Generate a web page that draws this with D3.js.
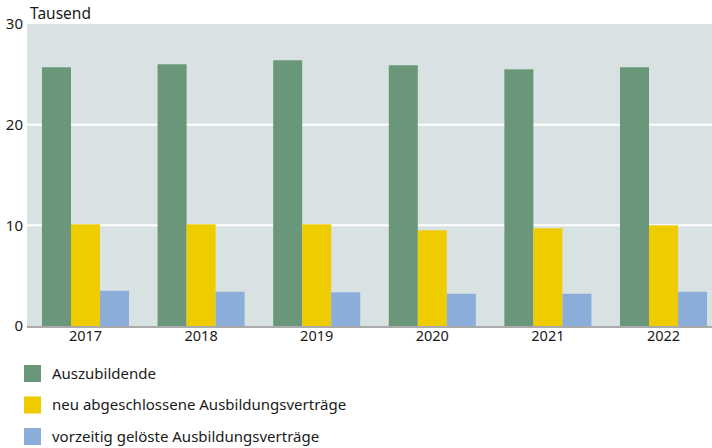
<!DOCTYPE html>
<html>
<head>
<meta charset="utf-8">
<script src="https://cdn.jsdelivr.net/npm/d3@7"></script>
<style>
  html, body { margin: 0; padding: 0; background: #fff; }
  svg { display: block; font-family: "Noto Sans", sans-serif; }
</style>
</head>
<body>
<svg id="chart" width="712" height="448"></svg>
<script>
const years = ["2017", "2018", "2019", "2020", "2021", "2022"];
const seriesNames = ["Auszubildende", "neu abgeschlossene Ausbildungsverträge", "vorzeitig gelöste Ausbildungsverträge"];
const auszubildende = [25.7, 26.0, 26.4, 25.9, 25.5, 25.7];
const neuVertraege = [10.1, 10.1, 10.1, 9.5, 9.7, 10.0];
const geloesteVertraege = [3.5, 3.4, 3.35, 3.2, 3.2, 3.4];
const yTicks = [0, 10, 20, 30];
const unitLabel = "Tausend";
const colors = ["#6a977a", "#eecc00", "#8badda"];

const seriesValues = [auszubildende, neuVertraege, geloesteVertraege];
const FONT = "'Noto Sans', sans-serif";

const svg = d3.select("#chart");
const plot = { left: 27, right: 721.3, top: 24, bottom: 326 };

const x0 = d3.scaleBand().domain(years).range([plot.left + 0.7, plot.right]).paddingInner(0.247).paddingOuter(0.1235);
const x1 = d3.scaleBand().domain(d3.range(seriesNames.length)).range([0, x0.bandwidth()]);
const y = d3.scaleLinear().domain([0, 30]).range([plot.bottom, plot.top]);

svg.append("rect")
  .attr("x", plot.left).attr("y", plot.top)
  .attr("width", plot.right - plot.left).attr("height", plot.bottom - plot.top)
  .attr("fill", "#d9e2e3");

// gridlines
svg.append("g").selectAll("line")
  .data(yTicks.filter(t => t > 0 && t < 30))
  .join("line")
  .attr("x1", plot.left).attr("x2", plot.right)
  .attr("y1", d => y(d)).attr("y2", d => y(d))
  .attr("stroke", "#fff").attr("stroke-width", 2);

// bars
const groups = svg.append("g").selectAll("g")
  .data(years)
  .join("g")
  .attr("transform", d => `translate(${x0(d)},0)`);

groups.selectAll("rect")
  .data((d, i) => seriesValues.map((s, k) => ({ k, v: s[i] })))
  .join("rect")
  .attr("x", d => x1(d.k))
  .attr("width", x1.bandwidth())
  .attr("y", d => y(d.v))
  .attr("height", d => y(0) - y(d.v))
  .attr("fill", d => colors[d.k]);

// baseline
svg.append("line")
  .attr("x1", plot.left).attr("x2", plot.right)
  .attr("y1", y(0) + 1).attr("y2", y(0) + 1)
  .attr("stroke", "#aaaaaa").attr("stroke-width", 2);

// y axis
const yAxis = d3.axisLeft(y).tickValues(yTicks).tickSize(0).tickPadding(0);
const yG = svg.append("g").attr("transform", `translate(${plot.left - 4},0)`).call(yAxis);
yG.select(".domain").remove();
yG.selectAll("text").attr("font-size", 15).attr("fill", "#1a1a1a").attr("font-family", FONT);

// x axis
const xAxis = d3.axisBottom(x0).tickSize(0).tickPadding(0);
const xG = svg.append("g").attr("transform", `translate(0,${plot.bottom + 5})`).call(xAxis);
xG.select(".domain").remove();
xG.selectAll("text").attr("font-size", 14.5).attr("fill", "#1a1a1a").attr("font-family", FONT);

// unit label
svg.append("text")
  .attr("x", 30).attr("y", 19)
  .attr("font-size", 15.5).attr("fill", "#1a1a1a")
  .text(unitLabel);

// legend
const legend = svg.append("g").selectAll("g")
  .data(seriesNames)
  .join("g")
  .attr("transform", (d, i) => `translate(24,${365 + i * 31.5})`);
legend.append("rect").attr("width", 17).attr("height", 17).attr("fill", (d, i) => colors[i]);
legend.append("text")
  .attr("x", 28).attr("y", 8.5).attr("dy", "0.35em")
  .attr("font-size", 15).attr("fill", "#1a1a1a")
  .text(d => d);
</script>
</body>
</html>
